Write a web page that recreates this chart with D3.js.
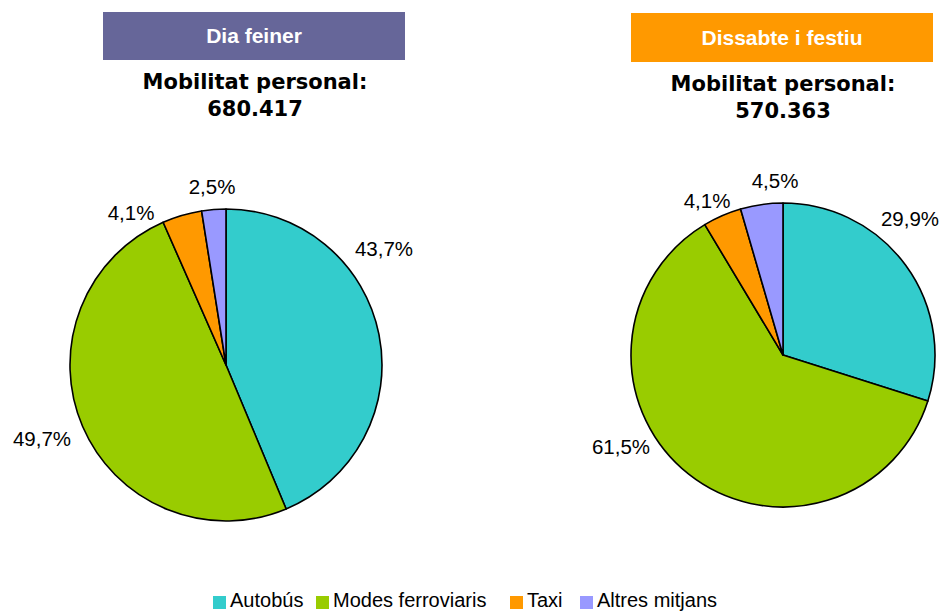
<!DOCTYPE html>
<html><head><meta charset="utf-8">
<script src="https://cdn.jsdelivr.net/npm/d3@7"></script>
<style>body{margin:0;background:#fff}svg{display:block}</style>
</head><body>
<script>
const categories = ["Autobús", "Modes ferroviaris", "Taxi", "Altres mitjans"];
const colors = ["#33CCCC", "#99CC00", "#FF9900", "#9999FF"];
const panelTitles = ["Dia feiner", "Dissabte i festiu"];
const panelColors = ["#666699", "#FF9900"];
const totals = ["680.417", "570.363"];
const valuesFeiner = [43.7, 49.7, 4.1, 2.5];
const valuesFestiu = [29.9, 61.5, 4.1, 4.5];

const W = 947, H = 612;
const svg = d3.select("body").append("svg").attr("width", W).attr("height", H);

const panels = [
  {values: valuesFeiner, cx: 226, cy: 365, r: 156, boxX: 103, boxY: 12, boxW: 302, boxH: 48, titleY: 43, subX: 255, subY: 89,
   labelOff: [[158,-117],[-184,73],[-95,-153],[-14,-179]]},
  {values: valuesFestiu, cx: 783, cy: 355, r: 152, boxX: 631, boxY: 13, boxW: 302, boxH: 49, titleY: 45, subX: 783, subY: 91,
   labelOff: [[127,-137],[-162,91],[-76,-155],[-8,-175]]}
];

const fmt = v => d3.format(".1f")(v).replace(".", ",") + "%";

panels.forEach((p, i) => {
  const g = svg.append("g");
  g.append("rect").attr("x", p.boxX).attr("y", p.boxY).attr("width", p.boxW).attr("height", p.boxH)
    .attr("fill", panelColors[i]);
  g.append("text").attr("x", p.boxX + p.boxW/2).attr("y", p.titleY)
    .attr("text-anchor", "middle").attr("fill", "#fff")
    .style("font", "bold 21px 'Liberation Sans', Arial, sans-serif").text(panelTitles[i]);
  const sub = g.append("text").attr("text-anchor", "middle").attr("fill", "#000")
    .style("font", "bold 21px 'DejaVu Sans', Verdana, sans-serif");
  sub.append("tspan").attr("x", p.subX).attr("y", p.subY).text("Mobilitat personal:");
  sub.append("tspan").attr("x", p.subX).attr("y", p.subY + 27).text(totals[i]);

  const data = p.values.map((v, k) => ({v, k}));
  const pie = d3.pie().value(d => d.v).sort(null);
  const arc = d3.arc().innerRadius(0).outerRadius(p.r);
  const arcs = pie(data);
  const pg = g.append("g").attr("transform", `translate(${p.cx},${p.cy})`);
  pg.selectAll("path").data(arcs).join("path")
    .attr("d", arc).attr("fill", d => colors[d.data.k])
    .attr("stroke", "#000").attr("stroke-width", 1.6).attr("stroke-linejoin", "round");
  pg.selectAll("text").data(arcs).join("text")
    .attr("x", d => p.labelOff[d.data.k][0]).attr("y", d => p.labelOff[d.data.k][1] + 8)
    .attr("text-anchor", "middle")
    .style("font", "20.5px 'Liberation Sans', Arial, sans-serif").attr("fill", "#000")
    .text(d => fmt(d.data.v));
});

// legend
const lg = svg.append("g").attr("transform", "translate(0,607)");
const legendX = [213, 316, 510, 580];
categories.forEach((c, k) => {
  lg.append("rect").attr("x", legendX[k]).attr("y", -11).attr("width", 13).attr("height", 13).attr("fill", colors[k]);
  lg.append("text").attr("x", legendX[k] + 17).attr("y", 0)
    .style("font", "20px 'Liberation Sans', Arial, sans-serif").attr("fill", "#000").text(c);
});
</script>
</body></html>
